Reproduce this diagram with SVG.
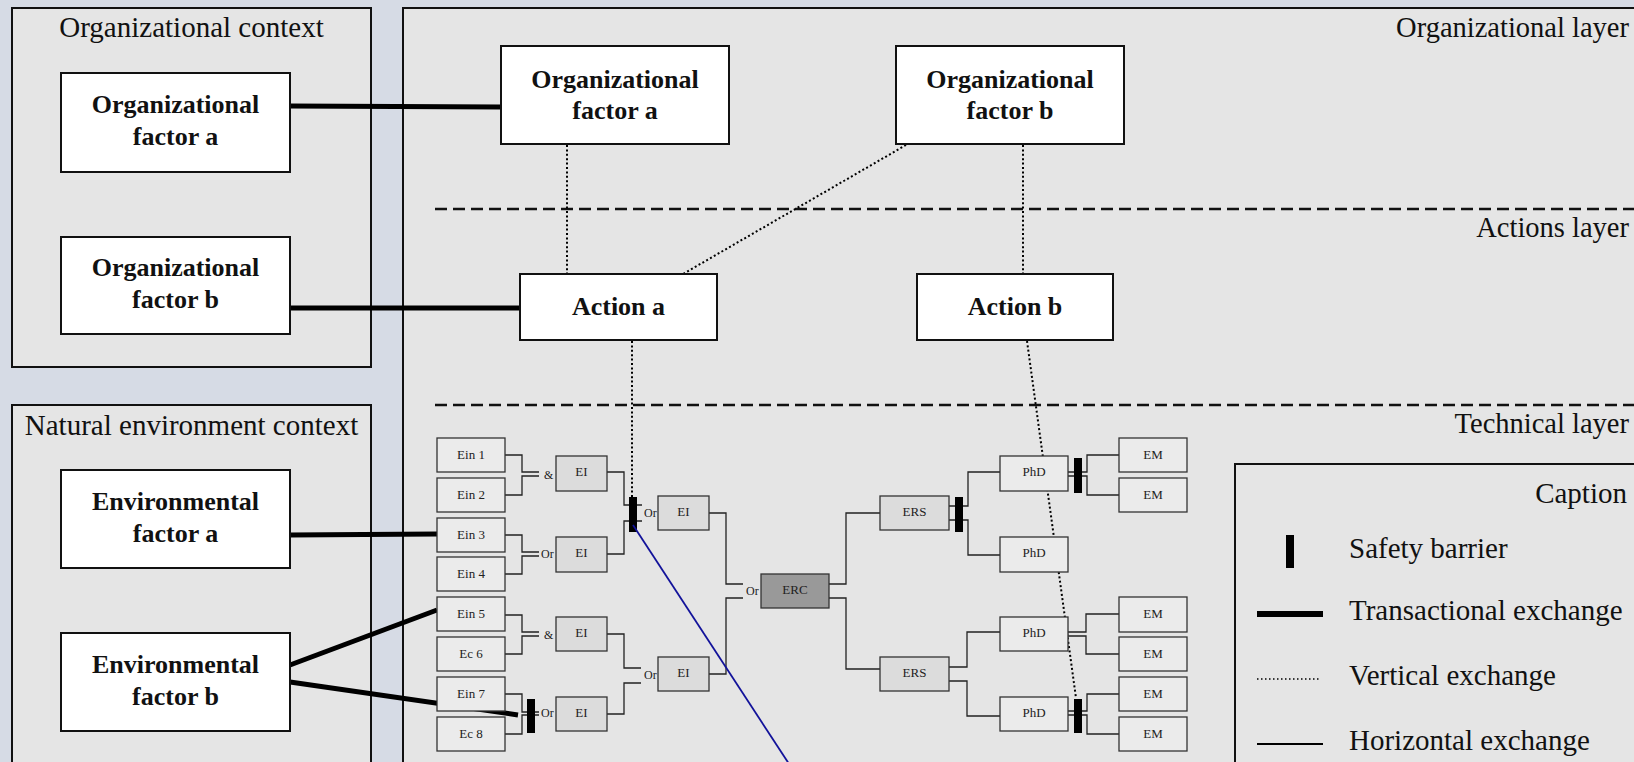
<svg xmlns="http://www.w3.org/2000/svg" width="1634" height="762" viewBox="0 0 1634 762">
  <defs>
    <style>
      text { font-family: "Liberation Serif", "Times New Roman", serif; fill: #111; }
      .bg { fill: #d6dbe5; }
      .panel { fill: #e5e5e5; stroke: #111; stroke-width: 2; }
      .white { fill: #ffffff; stroke: #111; stroke-width: 2; }
      .title { font-size: 29px; }
      .title-c { font-size: 29px; text-anchor: middle; }
      .layer-t { font-size: 28.5px; text-anchor: end; }
      .bold { font-size: 26px; font-weight: bold; text-anchor: middle; }
      .small { font-size: 13px; text-anchor: middle; fill: #222; }
      .gate { font-size: 12px; fill: #222; }
      .ein { fill: #ebebeb; stroke: #333; stroke-width: 1.3; }
      .ei { fill: #dcdcdc; stroke: #333; stroke-width: 1.3; }
      .erc { fill: #999999; stroke: #333; stroke-width: 1.3; }
      .wire { fill: none; stroke: #222; stroke-width: 1.3; }
      .trans { fill: none; stroke: #000; stroke-width: 5; }
      .vert { fill: none; stroke: #000; stroke-width: 2; stroke-dasharray: 2 2.4; }
      .divider { fill: none; stroke: #111; stroke-width: 2.5; stroke-dasharray: 12 6; }
      .barrier { fill: #000; }
      .blue { fill: none; stroke: #12129a; stroke-width: 1.8; }
    </style>
  </defs>

  <!-- page background -->
  <rect class="bg" x="0" y="0" width="1634" height="762"/>

  <!-- context panels and layered main panel -->
  <g id="organizational-context">
    <rect class="panel" x="12" y="8" width="359" height="359"/>
    <text class="title-c" x="191.5" y="37">Organizational context</text>
  </g>
  <g id="natural-environment-context">
    <rect class="panel" x="12" y="405" width="359" height="380"/>
    <text class="title-c" x="191.5" y="435">Natural environment context</text>
  </g>
  <g id="layers">
    <rect class="panel" x="403" y="8" width="1260" height="800"/>
    <line class="divider" x1="435" y1="209" x2="1640" y2="209"/>
    <line class="divider" x1="435" y1="405" x2="1640" y2="405"/>
    <text class="layer-t" x="1629" y="37">Organizational layer</text>
    <text class="layer-t" x="1629" y="237">Actions layer</text>
    <text class="layer-t" x="1629" y="433">Technical layer</text>
  </g>

  <!-- connectors -->
  <g id="connectors">
    <!-- transactional exchanges -->
    <line class="trans" x1="290" y1="106" x2="501" y2="107"/>
    <line class="trans" x1="290" y1="308" x2="520" y2="308"/>
    <line class="trans" x1="290" y1="535" x2="437" y2="534"/>
    <line class="trans" x1="290" y1="665" x2="437" y2="610"/>
    <line class="trans" x1="290" y1="682" x2="518" y2="715"/>
    <!-- vertical exchanges -->
    <line class="vert" x1="567" y1="145" x2="567" y2="274"/>
    <line class="vert" x1="906" y1="145" x2="683" y2="274"/>
    <line class="vert" x1="1023" y1="145" x2="1023" y2="274"/>
    <line class="vert" x1="632" y1="341" x2="632" y2="497"/>
    <line class="vert" x1="1027" y1="341" x2="1076" y2="698"/>
    <!-- horizontal exchanges in the technical layer -->
    <path class="wire" d="M505 455 H522 V472 H539 M505 495 H522 V476 H539"/>
    <path class="wire" d="M505 535 H522 V552 H539 M505 574 H522 V556 H539"/>
    <path class="wire" d="M505 615 H522 V632 H539 M505 654 H522 V636 H539"/>
    <path class="wire" d="M505 694 H522 V712 H539 M505 734 H522 V715 H539"/>
    <path class="wire" d="M607 472 H624 V505 H642 M607 554 H624 V521 H642"/>
    <path class="wire" d="M607 634 H624 V668 H641 M607 714 H624 V683 H641"/>
    <path class="wire" d="M709 513 H726 V584 H743 M709 674 H726 V598 H743"/>
    <path class="wire" d="M829 584 H846 V513 H880 M829 598 H846 V669 H880"/>
    <path class="wire" d="M949 506 H968 V472 H1000 M949 520 H968 V555 H1000"/>
    <path class="wire" d="M949 667 H967 V632 H1000 M949 681 H967 V716 H1000"/>
    <path class="wire" d="M1068 472 H1087 V455 H1119 M1068 476 H1087 V495 H1119"/>
    <path class="wire" d="M1068 632 H1086 V614 H1119 M1068 636 H1086 V654 H1119"/>
    <path class="wire" d="M1068 711 H1087 V694 H1119 M1068 715 H1087 V734 H1119"/>
    <!-- gate labels -->
    <text class="gate" x="544" y="479">&amp;</text>
    <text class="gate" x="541" y="558">Or</text>
    <text class="gate" x="544" y="639">&amp;</text>
    <text class="gate" x="541" y="717">Or</text>
    <text class="gate" x="644" y="517">Or</text>
    <text class="gate" x="644" y="679">Or</text>
    <text class="gate" x="746" y="595">Or</text>
    <!-- safety barriers -->
    <rect class="barrier" x="629" y="497" width="8" height="35"/>
    <rect class="barrier" x="527" y="699" width="8" height="34"/>
    <rect class="barrier" x="955" y="497" width="8" height="35"/>
    <rect class="barrier" x="1074" y="458" width="8" height="35"/>
    <rect class="barrier" x="1074" y="699" width="8" height="34"/>
    <!-- cross-link -->
    <line class="blue" x1="633" y1="525" x2="793" y2="770"/>
  </g>

  <!-- context factors -->
  <g id="ctx-org-a">
    <rect class="white" x="61" y="73" width="229" height="99"/>
    <text class="bold" x="175.5" y="113">Organizational</text>
    <text class="bold" x="175.5" y="145">factor a</text>
  </g>
  <g id="ctx-org-b">
    <rect class="white" x="61" y="237" width="229" height="97"/>
    <text class="bold" x="175.5" y="276">Organizational</text>
    <text class="bold" x="175.5" y="308">factor b</text>
  </g>
  <g id="ctx-env-a">
    <rect class="white" x="61" y="470" width="229" height="98"/>
    <text class="bold" x="175.5" y="510">Environmental</text>
    <text class="bold" x="175.5" y="542">factor a</text>
  </g>
  <g id="ctx-env-b">
    <rect class="white" x="61" y="633" width="229" height="98"/>
    <text class="bold" x="175.5" y="673">Environmental</text>
    <text class="bold" x="175.5" y="705">factor b</text>
  </g>

  <!-- organizational layer -->
  <g id="org-factor-a">
    <rect class="white" x="501" y="46" width="228" height="98"/>
    <text class="bold" x="615" y="88">Organizational</text>
    <text class="bold" x="615" y="119">factor a</text>
  </g>
  <g id="org-factor-b">
    <rect class="white" x="896" y="46" width="228" height="98"/>
    <text class="bold" x="1010" y="88">Organizational</text>
    <text class="bold" x="1010" y="119">factor b</text>
  </g>

  <!-- actions layer -->
  <g id="action-a">
    <rect class="white" x="520" y="274" width="197" height="66"/>
    <text class="bold" x="618.5" y="315">Action a</text>
  </g>
  <g id="action-b">
    <rect class="white" x="917" y="274" width="196" height="66"/>
    <text class="bold" x="1015" y="315">Action b</text>
  </g>

  <!-- technical layer: initiating events -->
  <g id="ein1"><rect class="ein" x="437" y="438" width="68" height="34"/><text class="small" x="471" y="458.5">Ein 1</text></g>
  <g id="ein2"><rect class="ein" x="437" y="478" width="68" height="34"/><text class="small" x="471" y="498.5">Ein 2</text></g>
  <g id="ein3"><rect class="ein" x="437" y="518" width="68" height="34"/><text class="small" x="471" y="538.5">Ein 3</text></g>
  <g id="ein4"><rect class="ein" x="437" y="557" width="68" height="34"/><text class="small" x="471" y="577.5">Ein 4</text></g>
  <g id="ein5"><rect class="ein" x="437" y="597" width="68" height="34"/><text class="small" x="471" y="617.5">Ein 5</text></g>
  <g id="ec6"><rect class="ein" x="437" y="637" width="68" height="34"/><text class="small" x="471" y="657.5">Ec 6</text></g>
  <g id="ein7"><rect class="ein" x="437" y="677" width="68" height="34"/><text class="small" x="471" y="697.5">Ein 7</text></g>
  <g id="ec8"><rect class="ein" x="437" y="717" width="68" height="34"/><text class="small" x="471" y="737.5">Ec 8</text></g>

  <!-- intermediate events -->
  <g id="ei1"><rect class="ei" x="556" y="456" width="51" height="35"/><text class="small" x="581.5" y="476">EI</text></g>
  <g id="ei2"><rect class="ei" x="556" y="537" width="51" height="35"/><text class="small" x="581.5" y="557">EI</text></g>
  <g id="ei3"><rect class="ei" x="556" y="617" width="51" height="34"/><text class="small" x="581.5" y="637">EI</text></g>
  <g id="ei4"><rect class="ei" x="556" y="697" width="51" height="34"/><text class="small" x="581.5" y="717">EI</text></g>
  <g id="ei5"><rect class="ei" x="658" y="496" width="51" height="34"/><text class="small" x="683.5" y="516">EI</text></g>
  <g id="ei6"><rect class="ei" x="658" y="657" width="51" height="34"/><text class="small" x="683.5" y="677">EI</text></g>

  <!-- central event -->
  <g id="erc"><rect class="erc" x="761" y="574" width="68" height="34"/><text class="small" x="795" y="594">ERC</text></g>

  <!-- secondary events -->
  <g id="ers1"><rect class="ei" x="880" y="496" width="69" height="34"/><text class="small" x="914.5" y="516">ERS</text></g>
  <g id="ers2"><rect class="ei" x="880" y="657" width="69" height="34"/><text class="small" x="914.5" y="677">ERS</text></g>

  <!-- dangerous phenomena -->
  <g id="phd1"><rect class="ein" x="1000" y="456" width="68" height="35"/><text class="small" x="1034" y="476">PhD</text></g>
  <g id="phd2"><rect class="ein" x="1000" y="537" width="68" height="35"/><text class="small" x="1034" y="557">PhD</text></g>
  <g id="phd3"><rect class="ein" x="1000" y="617" width="68" height="34"/><text class="small" x="1034" y="637">PhD</text></g>
  <g id="phd4"><rect class="ein" x="1000" y="697" width="68" height="34"/><text class="small" x="1034" y="717">PhD</text></g>

  <!-- major events -->
  <g id="em1"><rect class="ein" x="1119" y="438" width="68" height="34"/><text class="small" x="1153" y="458.5">EM</text></g>
  <g id="em2"><rect class="ein" x="1119" y="478" width="68" height="34"/><text class="small" x="1153" y="498.5">EM</text></g>
  <g id="em3"><rect class="ein" x="1119" y="597" width="68" height="35"/><text class="small" x="1153" y="617.5">EM</text></g>
  <g id="em4"><rect class="ein" x="1119" y="637" width="68" height="34"/><text class="small" x="1153" y="657.5">EM</text></g>
  <g id="em5"><rect class="ein" x="1119" y="677" width="68" height="34"/><text class="small" x="1153" y="697.5">EM</text></g>
  <g id="em6"><rect class="ein" x="1119" y="717" width="68" height="34"/><text class="small" x="1153" y="737.5">EM</text></g>

  <!-- caption -->
  <g id="caption">
    <rect class="panel" x="1235" y="464" width="420" height="320"/>
    <text class="layer-t" x="1627" y="503" style="font-size:29px">Caption</text>
    <rect class="barrier" x="1286" y="535" width="8" height="33"/>
    <text class="title" x="1349" y="558">Safety barrier</text>
    <line class="trans" x1="1257" y1="614" x2="1323" y2="614" style="stroke-width:6"/>
    <text class="title" x="1349" y="620">Transactional exchange</text>
    <line class="vert" x1="1257" y1="679" x2="1321" y2="679" style="stroke-width:1.5;stroke-dasharray:1.5 2.5"/>
    <text class="title" x="1349" y="685">Vertical exchange</text>
    <line x1="1257" y1="744" x2="1323" y2="744" stroke="#000" stroke-width="2"/>
    <text class="title" x="1349" y="750">Horizontal exchange</text>
  </g>
</svg>
